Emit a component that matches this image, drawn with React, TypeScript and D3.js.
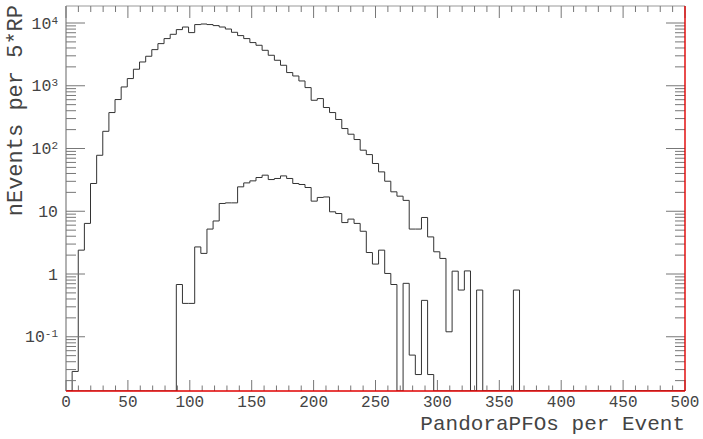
import React from "react";
import * as d3 from "d3";

// Histogram binning: 101 bins spanning 0..500
const BIN_COUNT = 101;
const X_MIN = 0;
const X_MAX = 500;

// Upper (all events) histogram, bin contents from bin 0
const allCounts = [
  0, 0.028, 2.4, 6.4, 27.7, 78, 188, 374, 603, 957,
  1302, 1833, 2393, 2951, 3767, 4695, 5646, 6607, 7850, 8630,
  7030, 9440, 9640, 9440, 9090, 8630, 8020, 7110, 6300, 5646,
  4875, 4416, 3673, 3060, 2547, 2120, 1622, 1432, 1192, 935,
  587, 625, 450, 374, 290, 208, 169, 139, 94, 80,
  57.7, 42.4, 30.1, 20.4, 17.4, 14.9, 5.2, 5.2, 7.96, 3.9,
  2.26, 1.77, 0.12, 1.11, 0.555, 1.12, 0, 0.555, 0, 0,
  0, 0, 0, 0.555,
];

// Lower (selected) histogram, bin contents starting at bin 18
const selStartBin = 18;
const selCounts = [
  0.68, 0.34, 0.34, 2.7, 2.13, 5.2, 7.0, 13.3, 13.6, 13.6,
  24.5, 28.3, 30.5, 34.5, 37.6, 32, 33.3, 36.6, 33.3, 27.7,
  26.7, 23.9, 14.5, 16.6, 16.9, 9.8, 9.2, 6.6, 7.5, 6.4,
  4.8, 2.2, 1.44, 2.4, 1.02, 0.68, 0, 0.71, 0.051, 0.025,
  0.38, 0.025,
];

const xMajorTicks = [0, 50, 100, 150, 200, 250, 300, 350, 400, 450, 500];
const yDecades = [-1, 0, 1, 2, 3, 4];

const xTitle = "PandoraPFOs per Event";
const yTitle = "nEvents per 5*RP";

const W = 703;
const H = 439;
const L = 66;
const R = 685;
const T = 6;
const B = 391;
const FONT = "'Liberation Mono', 'DejaVu Sans Mono', monospace";

export default function App() {
  const x = d3.scaleLinear().domain([X_MIN, X_MAX]).range([L, R]);
  const y = d3
    .scaleLog()
    .domain([Math.pow(10, -1.8645), Math.pow(10, 4.271)])
    .range([B, T]);
  const bw = (X_MAX - X_MIN) / BIN_COUNT;

  const full = (arr: number[], start: number) => {
    const out = new Array(BIN_COUNT).fill(0);
    arr.forEach((v, i) => (out[start + i] = v));
    return out;
  };

  const stepPath = (vals: number[]) => {
    const pts: [number, number][] = [[x(X_MIN), B]];
    vals.forEach((v, i) => {
      const yy = v > 0 ? y(v) : B;
      pts.push([x(X_MIN + i * bw), yy]);
      pts.push([x(X_MIN + (i + 1) * bw), yy]);
    });
    pts.push([x(X_MAX), B]);
    return d3.line()(pts) || "";
  };

  const xMinor = d3.range(0, 501, 10).filter((v) => v % 50 !== 0);
  const [d0, d1] = y.domain();
  const yMinor: number[] = [];
  for (let p = -2; p <= 4; p++) {
    for (let m = 2; m <= 9; m++) {
      const v = m * Math.pow(10, p);
      if (v > d0 && v < d1) yMinor.push(v);
    }
  }

  const tickColor = "#777";
  const textColor = "#444";

  const yLabel = (p: number) => {
    if (p === 0) return <tspan>1</tspan>;
    if (p === 1) return <tspan>10</tspan>;
    return (
      <>
        <tspan>10</tspan>
        <tspan dy={-5} fontSize={11}>
          {String(p)}
        </tspan>
      </>
    );
  };

  return (
    <svg
      width={W}
      height={H}
      style={{ position: "absolute", left: 0, top: 0, background: "#fff" }}
    >
      <defs>
        <clipPath id="frame">
          <rect x={L} y={T} width={R - L} height={B - T} />
        </clipPath>
      </defs>
      <rect x={0} y={0} width={W} height={H} fill="#fff" />

      {/* histograms */}
      <g clipPath="url(#frame)" fill="none" stroke="#333" strokeWidth={1}>
        <path d={stepPath(full(allCounts, 0))} />
        <path d={stepPath(full(selCounts, selStartBin))} />
      </g>

      {/* frame */}
      <line x1={L} y1={T} x2={R} y2={T} stroke="#999" strokeWidth={1.2} />
      <line x1={L} y1={T} x2={L} y2={B} stroke="#999" strokeWidth={1.5} />

      {/* ticks */}
      <g stroke={tickColor} strokeWidth={1}>
        {xMajorTicks.map((v) => (
          <g key={"xM" + v}>
            <line x1={x(v)} x2={x(v)} y1={B} y2={B - 11} />
            <line x1={x(v)} x2={x(v)} y1={T} y2={T + 12} />
          </g>
        ))}
        {xMinor.map((v) => (
          <g key={"xm" + v}>
            <line x1={x(v)} x2={x(v)} y1={B} y2={B - 5.5} />
            <line x1={x(v)} x2={x(v)} y1={T} y2={T + 6} />
          </g>
        ))}
        {yDecades.map((p) => {
          const yy = y(Math.pow(10, p));
          return (
            <g key={"yM" + p}>
              <line x1={L} x2={L + 19} y1={yy} y2={yy} />
              <line x1={R} x2={R - 19} y1={yy} y2={yy} />
            </g>
          );
        })}
        {yMinor.map((v, i) => {
          const yy = y(v);
          return (
            <g key={"ym" + i}>
              <line x1={L} x2={L + 10} y1={yy} y2={yy} />
              <line x1={R} x2={R - 10} y1={yy} y2={yy} />
            </g>
          );
        })}
      </g>

      {/* red bottom & right frame edges */}
      <line x1={L} y1={B} x2={R} y2={B} stroke="#e00000" strokeWidth={1.4} />
      <line x1={R} y1={T} x2={R} y2={B} stroke="#e00000" strokeWidth={1.4} />

      {/* x tick labels */}
      <g fontFamily={FONT} fontSize={16} fill={textColor} textAnchor="middle">
        {xMajorTicks.map((v) => (
          <text key={"xl" + v} x={x(v)} y={407}>
            {String(v)}
          </text>
        ))}
      </g>

      {/* y tick labels */}
      <g fontFamily={FONT} fontSize={16.5} fill={textColor} textAnchor="end">
        {yDecades.map((p) => (
          <text key={"yl" + p} x={58} y={y(Math.pow(10, p)) + 5.5}>
            {yLabel(p)}
          </text>
        ))}
      </g>

      {/* titles */}
      <text
        x={R}
        y={430}
        textAnchor="end"
        fontFamily={FONT}
        fontSize={21}
        fill={textColor}
      >
        {xTitle}
      </text>
      <text
        transform={`translate(21.5, ${T - 1}) rotate(-90)`}
        textAnchor="end"
        fontFamily={FONT}
        fontSize={22}
        fill={textColor}
      >
        {yTitle}
      </text>
    </svg>
  );
}
